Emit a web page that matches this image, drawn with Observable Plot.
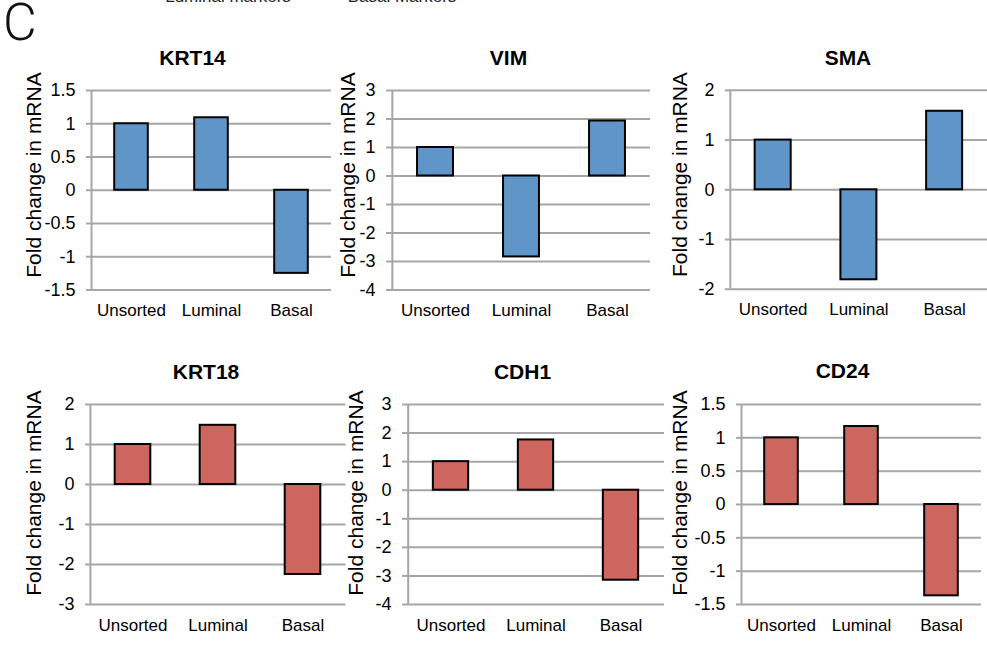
<!DOCTYPE html>
<html>
<head>
<meta charset="utf-8">
<script src="https://cdn.jsdelivr.net/npm/d3@7"></script>
<script src="https://cdn.jsdelivr.net/npm/@observablehq/plot@0.6"></script>
<style>
  html, body { margin: 0; padding: 0; background: #fff; }
  #figure { position: relative; width: 987px; height: 646px; overflow: hidden; background: #fff;
            font-family: "Liberation Sans", Arial, sans-serif; }
  .panel { position: absolute; }
  .legend-text { position: absolute; font-size: 17px; line-height: 17px; color: #222; white-space: nowrap;
                 transform: translateX(-50%); }
  #letter { position: absolute; left: 3px; top: 0px; font-family: Roboto, "Liberation Sans", sans-serif;
            font-weight: 300; font-size: 52px; line-height: 46px; color: #111; }
</style>
</head>
<body>
<div id="figure">
  <div class="legend-text" style="left:228px; top:-12px;">Luminal markers</div>
  <div class="legend-text" style="left:402px; top:-12px;">Basal Markers</div>
  <div id="letter">C</div>
</div>
<script>
// Sorted populations shown on every panel
const categories = ["Unsorted", "Luminal", "Basal"];

// Basal markers (blue)
const krt14 = [1.00, 1.09, -1.25];
const vim   = [1.00, -2.84, 1.93];
const sma   = [1.00, -1.81, 1.58];

// Luminal markers (red)
const krt18 = [1.00, 1.48, -2.25];
const cdh1  = [1.00, 1.76, -3.15];
const cd24  = [1.00, 1.17, -1.37];

// Y axis ticks per gene
const krt14Ticks = [-1.5, -1, -0.5, 0, 0.5, 1, 1.5];
const vimTicks   = [-4, -3, -2, -1, 0, 1, 2, 3];
const smaTicks   = [-2, -1, 0, 1, 2];
const krt18Ticks = [-3, -2, -1, 0, 1, 2];
const cdh1Ticks  = [-4, -3, -2, -1, 0, 1, 2, 3];
const cd24Ticks  = [-1.5, -1, -0.5, 0, 0.5, 1, 1.5];

const yLabel = "Fold change in mRNA";

const basalFill = "#5f95c9";
const luminalFill = "#cd665f";
const gridColor = "#a6a6a6";

// Panel layout: plot frame [left, top, width, height], title centre, y-label centre
const panels = [
  {gene: "KRT14", values: krt14, ticks: krt14Ticks, fill: basalFill,   frame: [91, 89.5, 240, 199.5],  title: [192, 57],  ylab: [34, 174]},
  {gene: "VIM",   values: vim,   ticks: vimTicks,   fill: basalFill,   frame: [391, 89.5, 259, 199.5], title: [508, 57],  ylab: [348, 174]},
  {gene: "SMA",   values: sma,   ticks: smaTicks,   fill: basalFill,   frame: [730, 89.5, 258, 199.5], title: [848, 57],  ylab: [680, 174]},
  {gene: "KRT18", values: krt18, ticks: krt18Ticks, fill: luminalFill, frame: [89.5, 404, 255.5, 200], title: [205, 372], ylab: [33, 492.5]},
  {gene: "CDH1",  values: cdh1,  ticks: cdh1Ticks,  fill: luminalFill, frame: [407, 404, 257, 200],   title: [522, 372], ylab: [356, 492.5]},
  {gene: "CD24",  values: cd24,  ticks: cd24Ticks,  fill: luminalFill, frame: [741, 404, 240, 200],   title: [842, 371], ylab: [680, 492.5]}
];

const figure = document.getElementById("figure");
const mL = 60, mT = 40, mB = 35;

for (const p of panels) {
  const [px, py, pw, ph] = p.frame;
  const step = pw / categories.length;
  const inset = step * 0.29;
  const lo = d3.min(p.ticks), hi = d3.max(p.ticks);
  const rows = categories.map((c, i) => ({category: c, value: p.values[i]}));

  const chart = Plot.plot({
    width: pw + mL,
    height: ph + mT + mB,
    marginLeft: mL,
    marginRight: 0,
    marginTop: mT,
    marginBottom: mB,
    style: {background: "transparent", overflow: "visible", fontFamily: "'Liberation Sans', Arial, sans-serif", color: "#000"},
    x: {type: "band", domain: categories, padding: 0},
    y: {domain: [lo, hi]},
    marks: [
      Plot.gridY(p.ticks, {stroke: gridColor, strokeOpacity: 1, strokeWidth: 2}),
      Plot.barY(rows, {x: "category", y: "value", fill: p.fill, stroke: "#000", strokeWidth: 2,
                       insetLeft: inset, insetRight: inset}),
      Plot.ruleX([categories[0]], {y1: lo, y2: hi, dx: -step / 2, stroke: gridColor, strokeWidth: 2}),
      Plot.axisY({ticks: p.ticks, tickFormat: d => String(d), tickSize: 5, tickPadding: 11,
                  stroke: gridColor, strokeWidth: 2, fill: "#000", fontSize: 18, label: null}),
      Plot.axisX({tickSize: 0, tickPadding: 14, fill: "#000", fontSize: 17, label: null}),
      Plot.text([p.gene], {text: d => d, frameAnchor: "top", textAnchor: "middle", lineAnchor: "middle",
                           dx: p.title[0] - (px + pw / 2), dy: p.title[1] - py,
                           fontSize: 21, fontWeight: "bold", fill: "#000"}),
      Plot.text([yLabel], {text: d => d, frameAnchor: "left", textAnchor: "middle", lineAnchor: "middle", rotate: -90,
                           dx: p.ylab[0] - px, dy: p.ylab[1] - (py + ph / 2),
                           fontSize: 21, fill: "#000"})
    ]
  });

  const holder = document.createElement("div");
  holder.className = "panel";
  holder.style.left = (px - mL) + "px";
  holder.style.top = (py - mT) + "px";
  holder.appendChild(chart);
  figure.appendChild(holder);
}
</script>
</body>
</html>
